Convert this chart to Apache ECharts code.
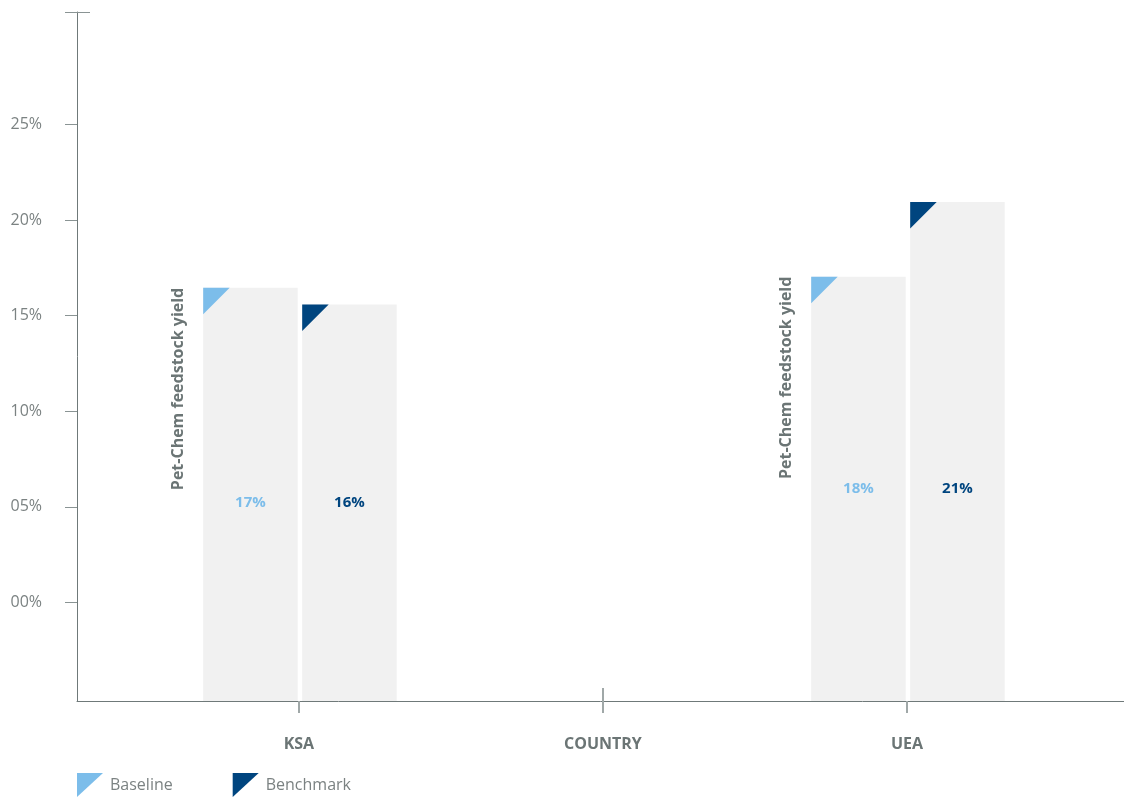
<!DOCTYPE html>
<html>
<head>
<meta charset="utf-8">
<script src="https://cdn.jsdelivr.net/npm/echarts@6/dist/echarts.min.js"></script>
<style>
html,body{margin:0;padding:0;background:#fff;}
#chart{width:1124px;height:798px;}
</style>
</head>
<body>
<div id="chart"></div>
<script>
// ---- data ----
const categories = ['KSA', 'UEA'];
const categoryPositions = [0, 2];
const axisTitle = 'COUNTRY';
const axisTitlePosition = 1;
const seriesNames = ['Baseline', 'Benchmark'];
const baseline = [16.46, 17.04];
const benchmark = [15.58, 20.95];
const baselineLabels = ['17%', '18%'];
const benchmarkLabels = ['16%', '21%'];
const sideLabel = 'Pet-Chem feedstock yield';
const yTickValues = [0, 5, 10, 15, 20, 25];
const yTickLabels = ['00%', '05%', '10%', '15%', '20%', '25%'];
const Y_MIN = -5.15, Y_MAX = 30.88;
const X_MIN = -0.73, X_MAX = 2.714;

const colors = ['#7cbdea', '#00457f'];
const axisColor = '#6f7979';
const textGrey = '#6b7575';
const FONT = '"Open Sans", sans-serif';

const chart = echarts.init(document.getElementById('chart'));

function makeRender(seriesIdx) {
  const labels = seriesIdx === 0 ? baselineLabels : benchmarkLabels;
  return function (params, api) {
    const i = params.dataIndex;
    const xv = api.value(0), v = api.value(1);
    const top = api.coord([xv, v]);
    const bottom = api.coord([xv, Y_MIN]);
    const lowTop = api.coord([xv, Math.min(baseline[i], benchmark[i])]);
    const w = 94.5, gap = 4.5, tri = 26.5;
    const left = seriesIdx === 0 ? top[0] + 1 - gap / 2 - w : top[0] + 1 + gap / 2;
    const children = [
      { type: 'rect', shape: { x: left, y: top[1], width: w, height: bottom[1] - top[1] }, style: { fill: '#f1f1f1' } },
      { type: 'polygon', shape: { points: [[left, top[1]], [left + tri, top[1]], [left, top[1] + tri]] }, style: { fill: colors[seriesIdx] } },
      { type: 'text', style: { x: left + w / 2, y: (lowTop[1] + bottom[1]) / 2, text: labels[i], fill: colors[seriesIdx], font: 'bold 15px ' + FONT, align: 'center', verticalAlign: 'middle' } }
    ];
    if (seriesIdx === 0) {
      children.push({
        type: 'text', x: left - 25, y: top[1], rotation: Math.PI / 2,
        style: { x: 0, y: 0, text: sideLabel, fill: textGrey, font: 'bold 16px ' + FONT, align: 'right', verticalAlign: 'middle' }
      });
    }
    return { type: 'group', children: children };
  };
}

const option = {
  animation: false,
  grid: { left: 77, right: 0, top: 12, bottom: 97, containLabel: false },
  legend: {
    left: 77, top: 773, padding: 0,
    itemWidth: 26, itemHeight: 24, itemGap: 60,
    icon: 'path://M0,0L26,0L0,24Z',
    textStyle: { fontSize: 16, color: '#7b8282', fontFamily: FONT, padding: [0, 0, 0, 2] },
    data: seriesNames
  },
  xAxis: [{
    type: 'value', min: X_MIN, max: X_MAX,
    splitLine: { show: false },
    axisLine: { show: true, onZero: false, lineStyle: { color: axisColor, width: 1 } },
    axisTick: { show: true, length: 12, customValues: [categoryPositions[0], axisTitlePosition, categoryPositions[1]], lineStyle: { color: '#a0a8a8', width: 2 } },
    axisLabel: {
      customValues: [categoryPositions[0], axisTitlePosition, categoryPositions[1]],
      margin: 35, fontSize: 16, fontWeight: 'bold', color: textGrey, fontFamily: FONT,
      formatter: function (val) {
        if (val === axisTitlePosition) return axisTitle;
        const k = categoryPositions.indexOf(val);
        return k >= 0 ? categories[k] : '';
      }
    }
  }, {
    type: 'value', min: X_MIN, max: X_MAX, position: 'bottom',
    splitLine: { show: false },
    axisLine: { show: false, onZero: false },
    axisTick: { show: true, inside: true, length: 13, customValues: [axisTitlePosition], lineStyle: { color: '#a0a8a8', width: 2 } },
    axisLabel: { show: false }
  }],
  yAxis: [{
    type: 'value', min: Y_MIN, max: Y_MAX,
    splitLine: { show: false },
    axisLine: { show: true, onZero: false, lineStyle: { color: axisColor, width: 1 } },
    axisTick: { show: true, length: 12, customValues: yTickValues.concat([Y_MAX]), lineStyle: { color: '#8a9494', width: 1 } },
    axisLabel: {
      customValues: yTickValues, margin: 35, fontSize: 16, color: '#7b8282', fontFamily: FONT,
      formatter: function (val) {
        const k = yTickValues.indexOf(val);
        return k >= 0 ? yTickLabels[k] : '';
      }
    }
  }, {
    type: 'value', min: Y_MIN, max: Y_MAX, position: 'left',
    splitLine: { show: false },
    axisLine: { show: false, onZero: false },
    axisTick: { show: true, inside: true, length: 13, customValues: [Y_MAX], lineStyle: { color: '#8a9494', width: 1 } },
    axisLabel: { show: false }
  }],
  series: [0, 1].map(function (s) {
    const vals = s === 0 ? baseline : benchmark;
    return {
      name: seriesNames[s],
      type: 'custom',
      itemStyle: { color: colors[s] },
      renderItem: makeRender(s),
      encode: { x: 0, y: 1 },
      clip: false,
      data: vals.map(function (v, i) { return [categoryPositions[i], v]; })
    };
  })
};
chart.setOption(option);
</script>
</body>
</html>
